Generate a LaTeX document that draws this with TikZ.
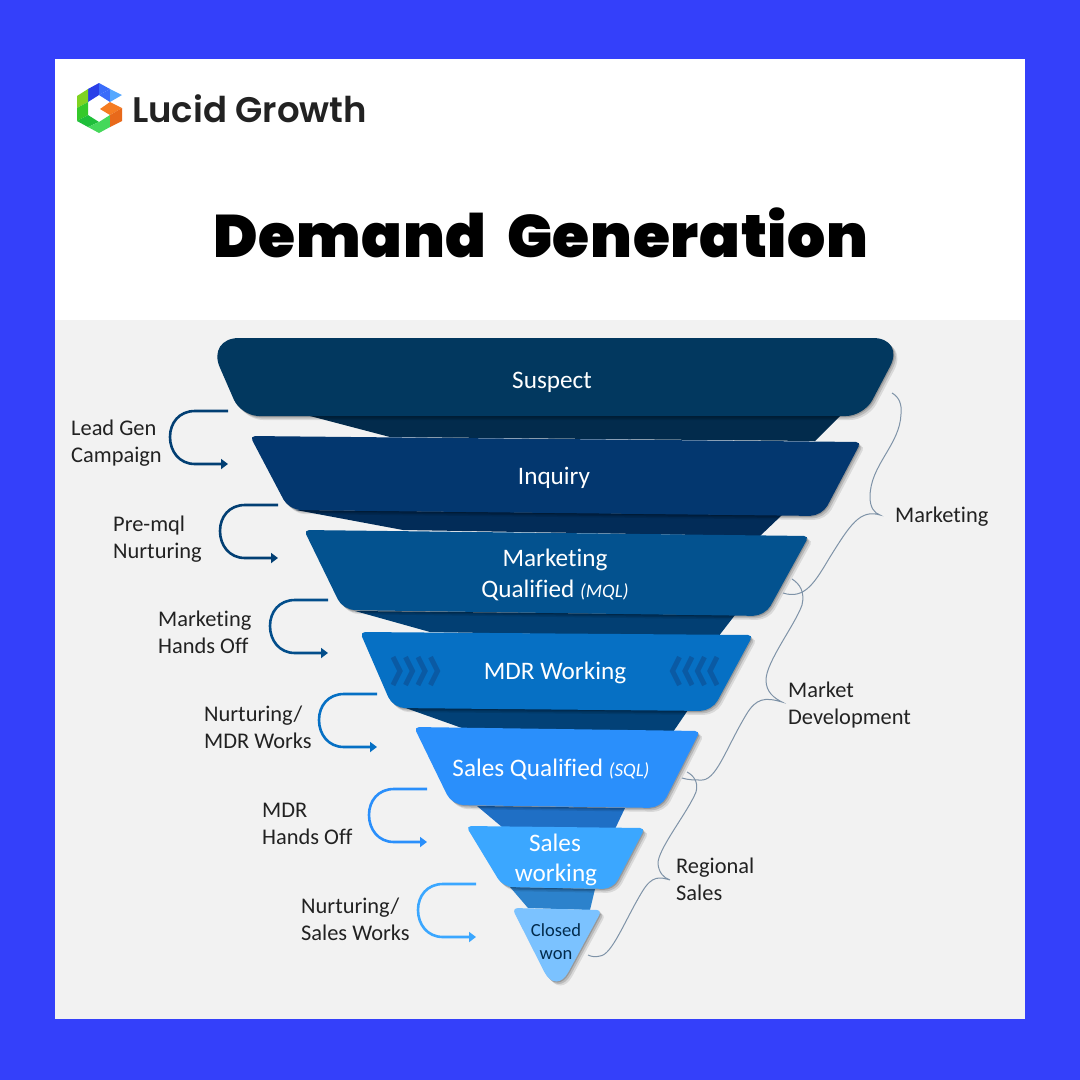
\documentclass[tikz,border=0pt]{standalone}
\usepackage{fontspec}
\usetikzlibrary{arrows.meta,calc}
\setmainfont{Carlito}[Ligatures=NoCommon]
\newfontfamily\ttlfont{Poppins Black}[WordSpace=1.9,LetterSpace=1.2]
\newfontfamily\brandfont{Poppins SemiBold}
\definecolor{bgblue}{HTML}{3440FA}
\definecolor{panel}{HTML}{F2F2F2}
\definecolor{lay1}{HTML}{02385F}
\definecolor{lay2}{HTML}{03376F}
\definecolor{lay3}{HTML}{03528F}
\definecolor{lay4}{HTML}{0670C4}
\definecolor{lay5}{HTML}{2A8FFB}
\definecolor{lay6}{HTML}{3BA7FF}
\definecolor{lay7}{HTML}{7BC2FF}
\definecolor{band1}{HTML}{022B4C}
\definecolor{band2}{HTML}{022C58}
\definecolor{band3}{HTML}{023F73}
\definecolor{band4}{HTML}{024177}
\definecolor{band5}{HTML}{1F6FC5}
\definecolor{band6}{HTML}{2C82CC}
\definecolor{lab}{HTML}{222222}
\definecolor{brace}{HTML}{7F93A8}
\definecolor{chev}{HTML}{0A5AA4}
\definecolor{lgA}{HTML}{2A3FE8}
\definecolor{lgB}{HTML}{3A6CFA}
\definecolor{lgC}{HTML}{55A8FF}
\definecolor{lgD}{HTML}{7FD321}
\definecolor{lgE}{HTML}{35C92A}
\definecolor{lgF}{HTML}{1FBF3A}
\definecolor{lgG}{HTML}{45D85A}
\definecolor{lgH}{HTML}{F57C22}
\definecolor{lgI}{HTML}{E8691A}
\tikzset{
  x=1pt,y=-1pt,
  layer/.style={preaction={fill=black,fill opacity=.10,transform canvas={shift={(4pt,-4pt)}}},
                preaction={fill=black,fill opacity=.14,transform canvas={shift={(2.5pt,-2.5pt)}}},
                preaction={fill=black,fill opacity=.18,transform canvas={shift={(1pt,-1pt)}}}},
  inlabel/.style={text=white,font=\fontsize{25.2}{28}\selectfont,inner sep=0pt},
  sidelabel/.style={text=lab,font=\fontsize{22.4}{27}\selectfont,anchor=west,align=left,inner sep=0pt},
  loopline/.style={line width=2.6pt,-{Triangle[length=7pt,width=10pt]}},
  bracket/.style={draw=brace,line width=1pt},
  chevron/.style={draw=chev,line width=5pt},
}
% name, x, y (top right end), colour
\newcommand{\looparrow}[4]{%
  \coordinate (#1s) at (#2,#3);
  \coordinate (#1e) at (#2,#3+53);
  \draw[loopline,draw=#4] (#1s) -- ++(-33,0) .. controls ++(-16,0) and ++(0,-14) .. ++(-25,26)
     .. controls ++(0,14) and ++(-16,0) .. ++(25,27) -- (#1e);
}
% x of leftmost, direction (+1 points right)
\newcommand{\chevs}[2]{%
  \foreach \k in {0,1,2,3}{
    \draw[chevron] (#1+#2*\k*12.5,657) -- ++(#2*7,14) -- ++(-#2*7,14);
  }
}
% colour, top-left, top-right, bottom-right, bottom-left, top radius, bottom radius
\newcommand{\layerpoly}[7]{%
  \fill[#1,layer] ($(#2)!.5!(#3)$) [rounded corners=#6pt] -- (#3) [rounded corners=#7pt] -- (#4)
     -- (#5) [rounded corners=#6pt] -- (#2) -- cycle;
}
\begin{document}
\begin{tikzpicture}
\useasboundingbox (0,0) rectangle (1080,1080);
\fill[bgblue] (0,0) rectangle (1080,1080);
\fill[white] (55,59) rectangle (1025,320);
\fill[panel] (55,320) rectangle (1025,1019);

% logo
\fill[lgA] (88,89) -- (99,83) -- (99,95) -- (88,102) -- cycle;
\fill[lgB] (99,83) -- (110,89) -- (99,95) -- cycle;
\fill[lgB] (99,95) -- (110,89) -- (110,102) -- cycle;
\fill[lgC] (110,89) -- (122,95) -- (110,102) -- cycle;
\fill[lgD] (77,96) -- (88,89) -- (88,102) -- (77,108) -- cycle;
\fill[lgE] (77,108) -- (88,102) -- (88,115) -- (77,121) -- cycle;
\fill[lgF] (77,121) -- (88,115) -- (99,122) -- (88,127) -- cycle;
\fill[lgG] (88,127) -- (99,122) -- (110,115) -- (110,127) -- (99,133) -- cycle;
\fill[lgH] (100,109) -- (110,102) -- (122,108) -- (110,115) -- cycle;
\fill[lgI] (110,115) -- (122,108) -- (122,121) -- (110,127) -- cycle;
\node[anchor=west,inner sep=0pt,text=lab,font=\brandfont\fontsize{35.5}{38}\selectfont] (brand) at (132,109) {Lucid Growth};

% title
\node[inner sep=0pt,text=black,font=\ttlfont\fontsize{60}{66}\selectfont] (title) at (541,233) {Demand Generation};

% bands
\fill[band1] (310,416) -- (840,416) -- (815,441) -- (390,437) -- cycle;
\fill[band2] (296,510) -- (782,515) -- (760,536) -- (403,530) -- cycle;
\fill[band3] (355,611) -- (735,615) -- (718,637) -- (430,632) -- cycle;
\fill[band4] (400,706) -- (688,710) -- (673,732) -- (462,728) -- cycle;
\fill[band5] (477,806) -- (625,808) -- (615,829) -- (502,827) -- cycle;
\fill[band6] (510,887) -- (595,889) -- (590,910) -- (528,908) -- cycle;

% funnel layers
\fill[lay1,layer] (556,338) [rounded corners=32pt] -- (905,338) [rounded corners=18pt] -- (864,416) -- (241,416) [rounded corners=32pt] -- (207,338) -- cycle;
\layerpoly{lay2}{250,436}{861,442}{822,516}{289,510}{5}{12}
\layerpoly{lay3}{304,530}{809,536}{765,616}{343,610}{5}{12}
\layerpoly{lay4}{360,632}{753,635}{712,711}{393,708}{5}{12}
\layerpoly{lay5}{414,727}{700,731}{661,808}{452,805}{5}{12}
\layerpoly{lay6}{466,826}{645,828}{613,889}{503,887}{5}{10}
\fill[lay7,layer] (557,909) [rounded corners=6pt] -- (602,910) [rounded corners=26pt] -- (556,995) [rounded corners=6pt] -- (512,908) -- cycle;

% chevrons
\chevs{393}{1}
\chevs{717}{-1}

% layer labels
\node[inlabel] (suspect) at (552,382) {Suspect};
\node[inlabel] (inquiry) at (554,478) {Inquiry};
\node[inlabel] (mql1) at (555,560) {Marketing};
\node[inlabel] (mql2) at (555,590) {Qualified {\fontsize{19}{20}\selectfont\itshape(MQL)}};
\node[inlabel] (mdr) at (555,673) {MDR Working};
\node[inlabel] (sql) at (551,769) {Sales Qualified {\fontsize{19}{20}\selectfont\itshape(SQL)}};
\node[inlabel] (sw1) at (555,843) {Sales};
\node[inlabel] (sw2) at (556,875) {working};
\node[inlabel,text=band1,font=\fontsize{18.5}{20}\selectfont] (cw1) at (556,930) {Closed};
\node[inlabel,text=band1,font=\fontsize{18.5}{20}\selectfont] (cw2) at (556,955) {won};

% loop arrows
\looparrow{la}{228}{411}{band3}
\looparrow{lb}{278}{505}{band3}
\looparrow{lc}{328}{600}{band3!70!lay4}
\looparrow{ld}{377}{694}{lay4}
\looparrow{le}{427}{789}{lay5}
\looparrow{lf}{476}{884}{lay6}

% side labels
\node[sidelabel] (s1) at (71,443.5) {Lead Gen\\Campaign};
\node[sidelabel] (s2) at (113,539.5) {Pre-mql\\Nurturing};
\node[sidelabel] (s3) at (158,632.5) {Marketing\\Hands Off};
\node[sidelabel] (s4) at (204,727.5) {Nurturing/\\MDR Works};
\node[sidelabel] (s5) at (262,823.5) {MDR\\Hands Off};
\node[sidelabel] (s6) at (301,919.5) {Nurturing/\\Sales Works};
\node[sidelabel] (s7) at (895,517) {Marketing};
\node[sidelabel] (s8) at (788,705.5) {Market\\Development};
\node[sidelabel] (s9) at (676,879.5) {Regional\\Sales};

% braces
\coordinate (b1a) at (892,393);
\coordinate (b1t) at (880,515);
\coordinate (b1z) at (783,593);
\draw[bracket] (b1a) .. controls (899,397) and (902,404) .. (901,414)
  .. controls (900,445) and (870,465) .. (870,497)
  .. controls (870,507) and (874,513) .. (b1t)
  .. controls (860,509) and (850,525) .. (830,557)
  .. controls (815,582) and (805,600) .. (b1z);
\coordinate (b2a) at (792,579);
\coordinate (b2t) at (782,702);
\coordinate (b2z) at (682,778);
\draw[bracket] (b2a) .. controls (800,584) and (805,592) .. (802,605)
  .. controls (795,625) and (766,662) .. (766,680)
  .. controls (766,692) and (774,698) .. (b2t)
  .. controls (765,697) and (756,698) .. (746,715)
  .. controls (725,750) and (716,782) .. (700,780)
  .. controls (695,780) and (688,780) .. (b2z);
\coordinate (b3a) at (687,772);
\coordinate (b3t) at (670,880);
\coordinate (b3z) at (588,955);
\draw[bracket] (b3a) .. controls (693,775) and (699,782) .. (696,792)
  .. controls (688,812) and (657,850) .. (658,864)
  .. controls (659,873) and (664,878) .. (b3t)
  .. controls (660,877) and (652,875) .. (642,892)
  .. controls (625,920) and (612,955) .. (600,956)
  .. controls (596,957) and (592,957) .. (b3z);
\end{tikzpicture}
\end{document}
